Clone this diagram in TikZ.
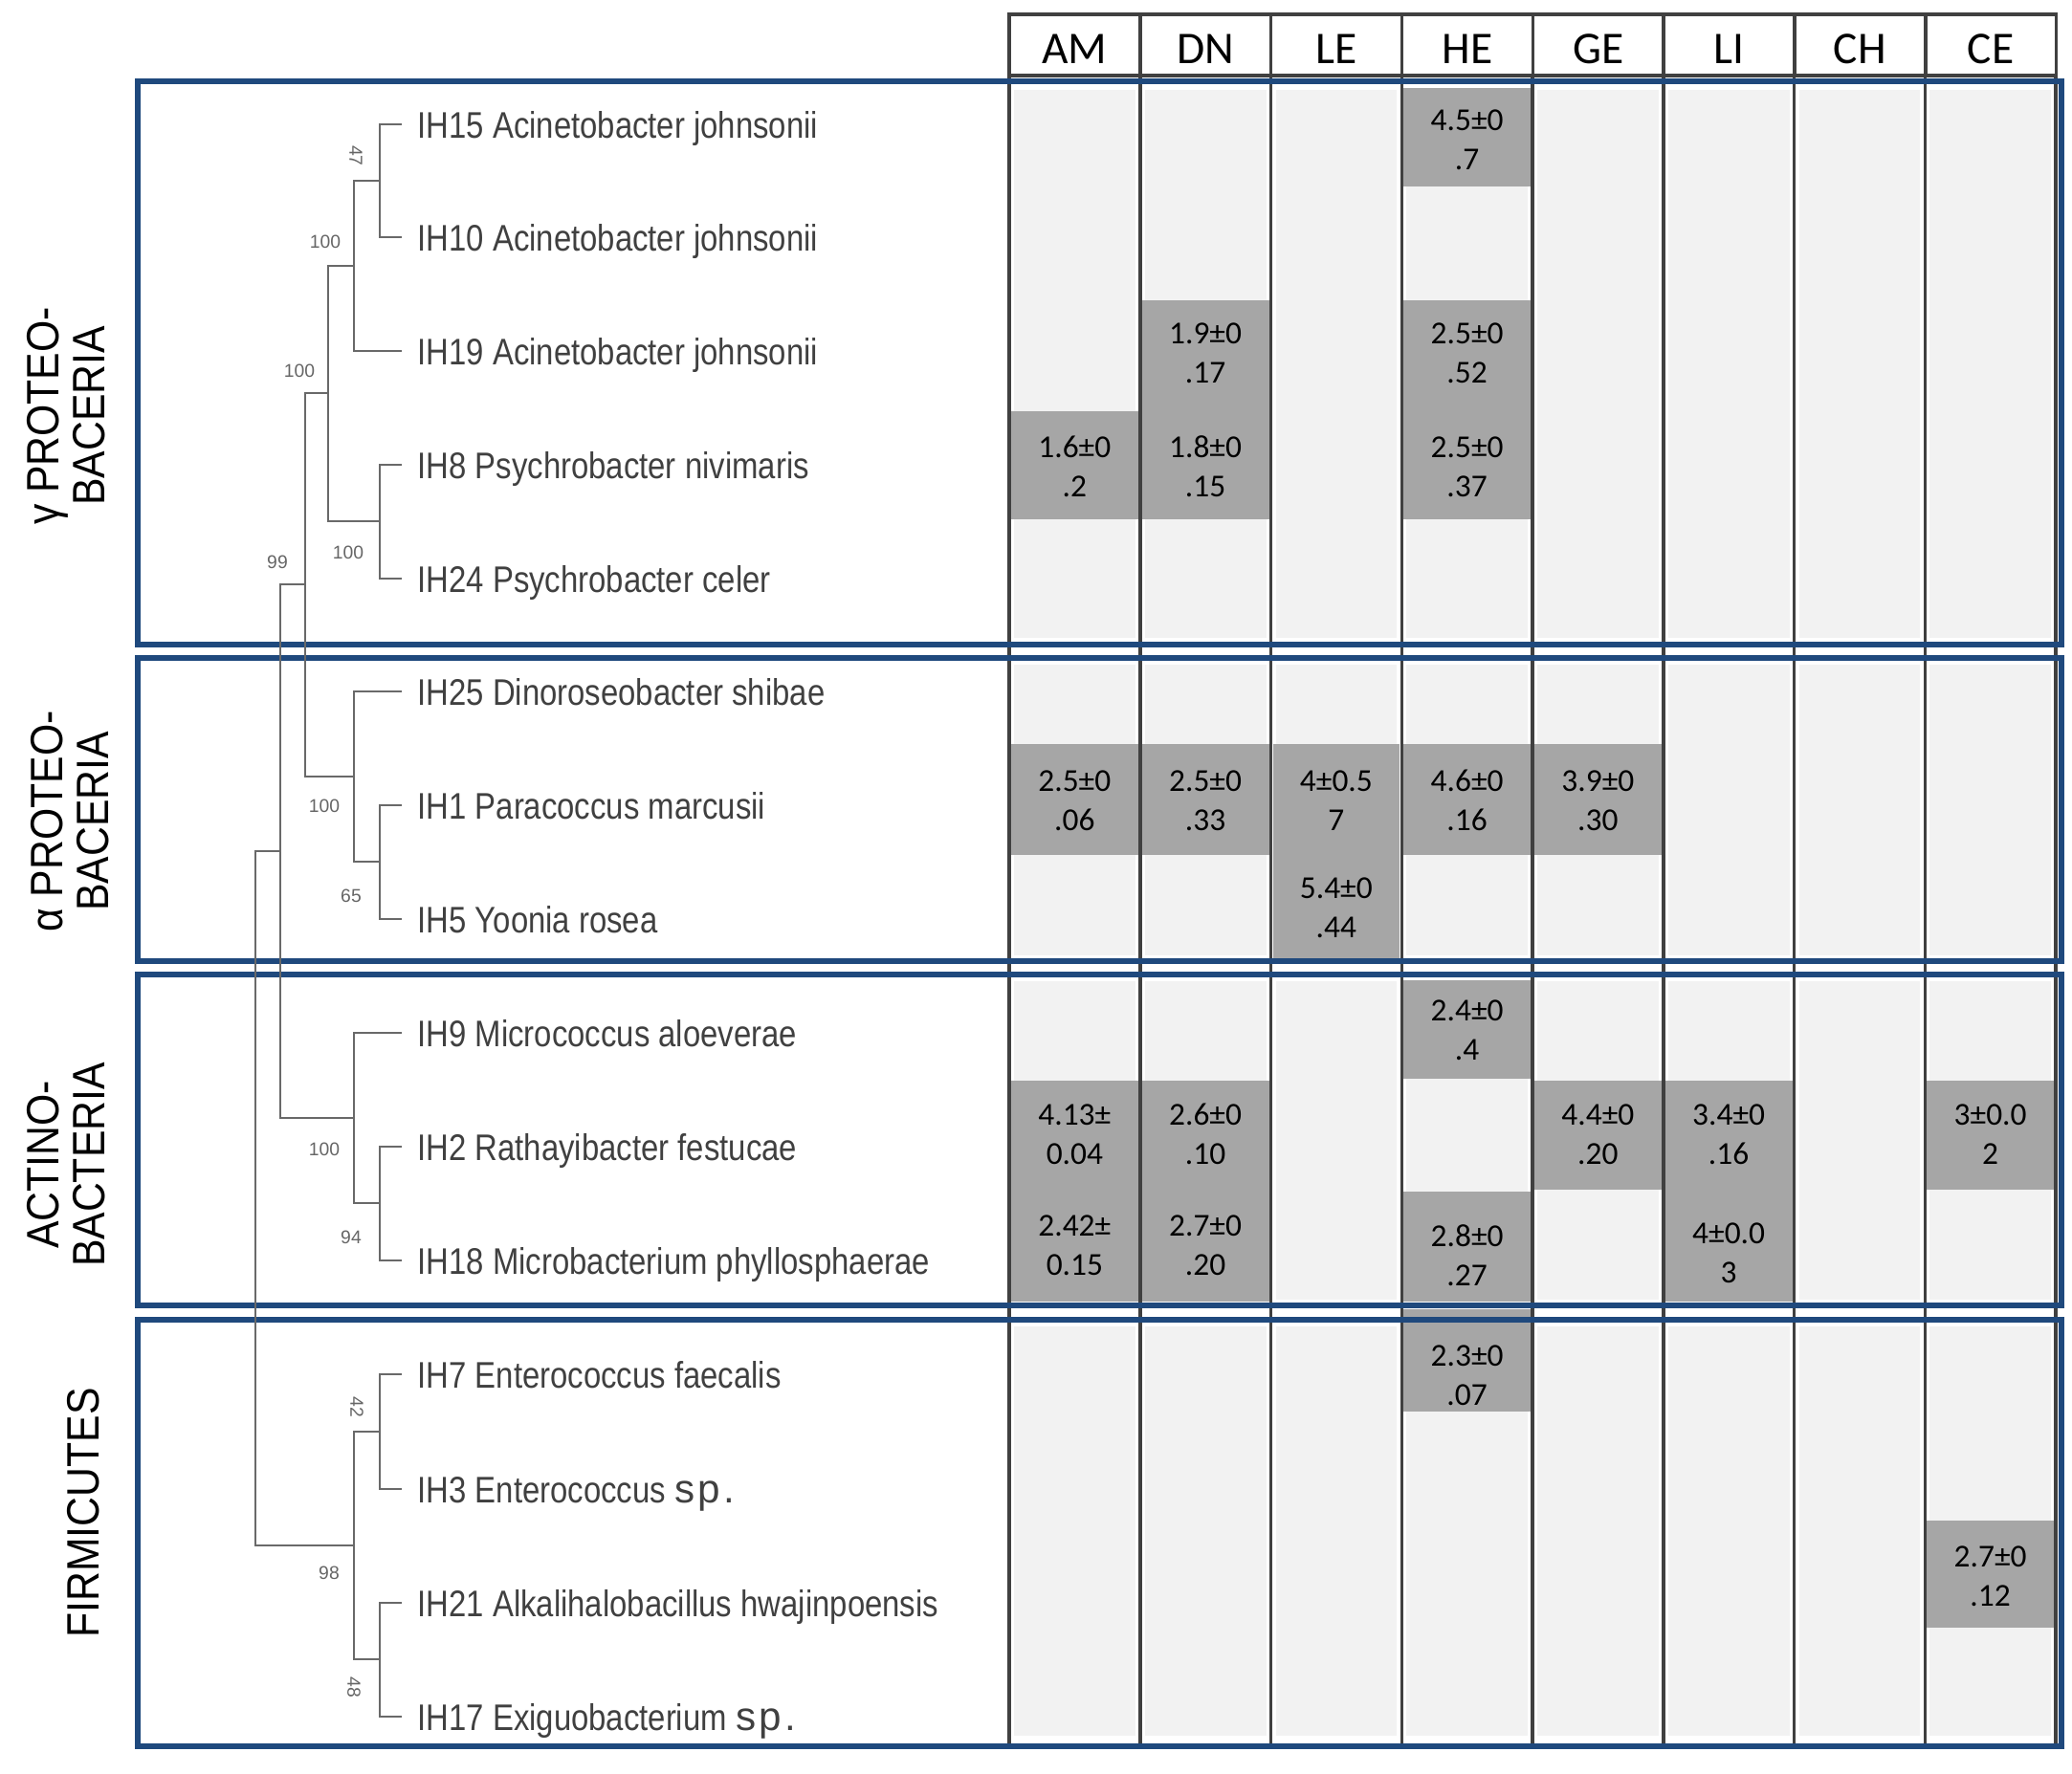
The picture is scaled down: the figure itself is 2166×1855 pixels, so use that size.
\documentclass[tikz,border=0pt]{standalone}
\usepackage{fontspec}
\setmainfont{Liberation Sans}
\newfontfamily\treefont[FakeStretch=0.85]{Liberation Sans}
\newfontfamily\spfont[LetterSpace=8]{Liberation Sans}
\newfontfamily\groupfont[FakeStretch=0.9]{Liberation Sans}
\newfontfamily\cellfont{Carlito}
\usetikzlibrary{positioning}
\definecolor{grpblue}{RGB}{31,73,125}
\definecolor{lightcell}{RGB}{242,242,242}
\definecolor{darkcell}{RGB}{166,166,166}
\definecolor{treegray}{RGB}{105,105,105}

\begin{document}
\begin{tikzpicture}[x=0.01cm, y=-0.01cm]
  \tikzstyle{branch}=[draw=treegray, line width=0.8pt]
  \tikzstyle{species}=[anchor=west, inner xsep=4.5pt, inner ysep=0pt, text height=8pt, text depth=0pt, text=black!75, font={\treefont\fontsize{11}{12}\selectfont}]
  \tikzstyle{boot}=[inner sep=0pt, text=black!60, font={\fontsize{5.5}{6}\selectfont}]
  \tikzstyle{grplabel}=[rotate=90, align=center, inner sep=0pt, font={\groupfont\fontsize{13.5}{13.5}\selectfont}]
  \tikzstyle{headcell}=[draw=black!75, line width=1pt, fill=white, minimum width=1.3675cm, minimum height=0.64cm, outer sep=0pt, inner sep=0pt, text height=10.9pt, text depth=0pt, font={\cellfont\fontsize{13.5}{14}\selectfont}]
  \tikzstyle{val}=[align=center, inner sep=0pt, font={\cellfont\fontsize{9.5}{11.6}\selectfont}]
  \tikzstyle{colline}=[draw=black!75, line width=1pt]
  \tikzstyle{grpbox}=[draw=grpblue, line width=1.8pt]

  \fill[white] (0,0) rectangle (2166,1855);
  \useasboundingbox (0,0) rectangle (2166,1855);

  \foreach \t/\b in {94/667, 695/999, 1026/1359, 1387/1815}
    \foreach \i in {1,...,8}
      \fill[lightcell] ({1055+136.75*(\i-1)+5},\t) rectangle ({1055+136.75*\i-5},\b);

  \foreach \col/\top/\bot/\ty/\val [count=\k] in {
      4/92/195/146/{4.5±0\\.7},
      2/314/430/369/{1.9±0\\.17}, 4/314/430/369/{2.5±0\\.52},
      1/430/543/488/{1.6±0\\.2}, 2/430/543/488/{1.8±0\\.15}, 4/430/543/488/{2.5±0\\.37},
      1/778/894/837/{2.5±0\\.06}, 2/778/894/837/{2.5±0\\.33}, 3/778/894/837/{4±0.5\\7},
      4/778/894/837/{4.6±0\\.16}, 5/778/894/837/{3.9±0\\.30},
      3/894/1003/949/{5.4±0\\.44},
      4/1025/1128/1077/{2.4±0\\.4},
      1/1130/1246/1186/{4.13±\\0.04}, 2/1130/1246/1186/{2.6±0\\.10},
      5/1130/1244/1186/{4.4±0\\.20}, 6/1130/1246/1186/{3.4±0\\.16}, 8/1130/1244/1186/{3±0.0\\2},
      1/1246/1361/1302/{2.42±\\0.15}, 2/1246/1361/1302/{2.7±0\\.20},
      4/1246/1361/1313/{2.8±0\\.27}, 6/1246/1361/1310/{4±0.0\\3},
      4/1369/1476/1438/{2.3±0\\.07},
      8/1590/1702/1648/{2.7±0\\.12}} {
    \fill[darkcell] ({1055+136.75*(\col-1)+2},\top) rectangle ({1055+136.75*\col-2},\bot);
    \node[val] (cell\k) at ({1055+136.75*(\col-0.5)},\ty) {\val};
  }

  \foreach \i in {0,...,8}
    \draw[colline] ({1055+136.75*\i},79) -- ({1055+136.75*\i},1826);

  \node[headcell] (hAM) at (1123.4,47) {AM};
  \node[headcell, right=0pt of hAM] (hDN) {DN};
  \node[headcell, right=0pt of hDN] (hLE) {LE};
  \node[headcell, right=0pt of hLE] (hHE) {HE};
  \node[headcell, right=0pt of hHE] (hGE) {GE};
  \node[headcell, right=0pt of hGE] (hLI) {LI};
  \node[headcell, right=0pt of hLI] (hCH) {CH};
  \node[headcell, right=0pt of hCH] (hCE) {CE};

  \draw[grpbox] (144,85) rectangle (2155,674);
  \draw[grpbox] (144,688) rectangle (2155,1005);
  \draw[grpbox] (144,1019) rectangle (2155,1365);
  \draw[grpbox] (144,1380) rectangle (2155,1826);

  \node[grplabel] (gGamma) at (69,435) {γ PROTEO-\\BACERIA};
  \node[grplabel] (gAlpha) at (73,859) {α PROTEO-\\BACERIA};
  \node[grplabel] (gActino) at (69,1218) {ACTINO-\\BACTERIA};
  \node[grplabel] (gFirm) at (87,1582) {FIRMICUTES};

  \node[species] (s1) at (420,130) {IH15 Acinetobacter johnsonii};
  \node[species] (s2) at (420,248) {IH10 Acinetobacter johnsonii};
  \node[species] (s3) at (420,367) {IH19 Acinetobacter johnsonii};
  \node[species] (s4) at (420,486) {IH8 Psychrobacter nivimaris};
  \node[species] (s5) at (420,605) {IH24 Psychrobacter celer};
  \node[species] (s6) at (420,723) {IH25 Dinoroseobacter shibae};
  \node[species] (s7) at (420,842) {IH1 Paracoccus marcusii};
  \node[species] (s8) at (420,961) {IH5 Yoonia rosea};
  \node[species] (s9) at (420,1080) {IH9 Micrococcus aloeverae};
  \node[species] (s10) at (420,1199) {IH2 Rathayibacter festucae};
  \node[species] (s11) at (420,1318) {IH18 Microbacterium phyllosphaerae};
  \node[species] (s12) at (420,1437) {IH7 Enterococcus faecalis};
  \node[species] (s13) at (420,1557) {IH3 Enterococcus {\spfont\fontsize{12}{12}\selectfont sp.}};
  \node[species] (s14) at (420,1676) {IH21 Alkalihalobacillus hwajinpoensis};
  \node[species] (s15) at (420,1795) {IH17 Exiguobacterium {\spfont\fontsize{12}{12}\selectfont sp.}};

  \coordinate (nA) at (397,189);
  \coordinate (nB) at (370,278);
  \coordinate (nC) at (397,545);
  \coordinate (nD) at (343,411);
  \coordinate (nE) at (397,901);
  \coordinate (nF) at (370,812);
  \coordinate (nG) at (319,611);
  \coordinate (nH) at (397,1258);
  \coordinate (nI) at (370,1169);
  \coordinate (nJ) at (293,890);
  \coordinate (nK) at (397,1497);
  \coordinate (nL) at (397,1735);
  \coordinate (nM) at (370,1616);
  \coordinate (root) at (267,1253);

  \draw[branch] (nA) |- (s1.west) (nA) |- (s2.west);
  \draw[branch] (nB) |- (nA) (nB) |- (s3.west);
  \draw[branch] (nC) |- (s4.west) (nC) |- (s5.west);
  \draw[branch] (nD) |- (nB) (nD) |- (nC);
  \draw[branch] (nE) |- (s7.west) (nE) |- (s8.west);
  \draw[branch] (nF) |- (s6.west) (nF) |- (nE);
  \draw[branch] (nG) |- (nD) (nG) |- (nF);
  \draw[branch] (nH) |- (s10.west) (nH) |- (s11.west);
  \draw[branch] (nI) |- (s9.west) (nI) |- (nH);
  \draw[branch] (nJ) |- (nG) (nJ) |- (nI);
  \draw[branch] (nK) |- (s12.west) (nK) |- (s13.west);
  \draw[branch] (nL) |- (s14.west) (nL) |- (s15.west);
  \draw[branch] (nM) |- (nK) (nM) |- (nL);
  \draw[branch] (root) |- (nJ) (root) |- (nM);

  \node[boot, rotate=-90] (b47) at (372,163) {47};
  \node[boot] (b100a) at (340,253) {100};
  \node[boot] (b100b) at (313,388) {100};
  \node[boot] (b99) at (290,588) {99};
  \node[boot] (b100c) at (364,578) {100};
  \node[boot] (b100d) at (339,843) {100};
  \node[boot] (b65) at (367,937) {65};
  \node[boot] (b100e) at (339,1202) {100};
  \node[boot] (b94) at (367,1294) {94};
  \node[boot, rotate=-90] (b42) at (373,1471) {42};
  \node[boot] (b98) at (344,1645) {98};
  \node[boot, rotate=-90] (b48) at (370,1764) {48};
\end{tikzpicture}
\end{document}
